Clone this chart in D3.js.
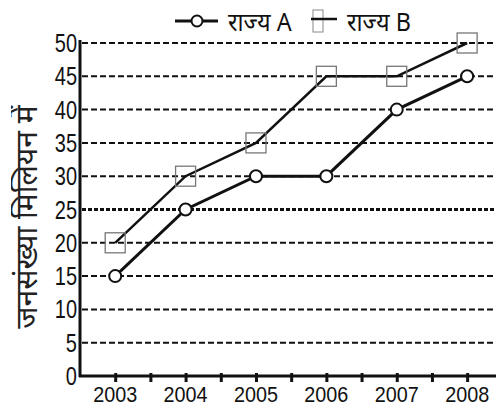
<!DOCTYPE html>
<html><head><meta charset="utf-8">
<script src="https://cdn.jsdelivr.net/npm/d3@7"></script>
<style>body{margin:0;background:#fff}svg{display:block}</style>
</head><body>
<svg id="c" width="496" height="414"></svg>
<script>
const years = [2003, 2004, 2005, 2006, 2007, 2008];
const seriesA = [15, 25, 30, 30, 40, 45];
const seriesB = [20, 30, 35, 45, 45, 50];
const yTicks = [0, 5, 10, 15, 20, 25, 30, 35, 40, 45, 50];
const seriesNames = ["राज्य A", "राज्य B"];
const yLabel = "जनसंख्या मिलियन में";

const svg = d3.select("#c");
const font = "'Liberation Sans',Arial,sans-serif";
const dfont = "'Noto Sans','Liberation Sans',sans-serif";
const x = d3.scaleLinear().domain([2002.5, 2008.41]).range([80, 496]);
const y = d3.scaleLinear().domain([0, 50]).range([376, 43]);

// gridlines
svg.append("g").selectAll("line").data(yTicks.filter(d => d > 0)).join("line")
  .attr("x1", 82).attr("x2", 496)
  .attr("y1", d => y(d)).attr("y2", d => y(d))
  .attr("stroke", "#111")
  .attr("stroke-width", d => d === 25 ? 3 : 2)
  .attr("stroke-dasharray", d => d === 25 ? "4,2" : "6,3");

// y tick labels (condensed)
svg.append("g").selectAll("text").data(yTicks).join("text")
  .attr("transform", d => `translate(77,${y(d)}) scale(0.8,1)`)
  .attr("dy", "0.36em")
  .attr("text-anchor", "end")
  .attr("font-family", font).attr("font-size", 25).attr("fill", "#111")
  .text(d => d);

// x axis
const xTickVals = d3.range(2003, 2008.01, 0.5);
const xAxis = d3.axisBottom(x).tickValues(xTickVals).tickSize(9).tickFormat("");
const gx = svg.append("g").attr("transform", "translate(0,373)").call(xAxis);
gx.select(".domain").remove();
gx.selectAll(".tick line").attr("stroke", "#111").attr("stroke-width", 3);
svg.append("line").attr("x1", 79).attr("x2", 496).attr("y1", 376).attr("y2", 376)
  .attr("stroke", "#111").attr("stroke-width", 3);
svg.append("line").attr("x1", 80).attr("x2", 80).attr("y1", 40).attr("y2", 377)
  .attr("stroke", "#111").attr("stroke-width", 3);

svg.append("g").selectAll("text").data(years).join("text")
  .attr("transform", d => `translate(${x(d)},402) scale(0.9,1)`)
  .attr("text-anchor", "middle")
  .attr("font-family", font).attr("font-size", 22).attr("fill", "#111")
  .text(d => d);

// y label (clipped at left like the reference)
svg.append("clipPath").attr("id", "ylc").append("rect")
  .attr("x", 11).attr("y", 0).attr("width", 40).attr("height", 414);
svg.append("g").attr("clip-path", "url(#ylc)")
  .append("text")
  .attr("transform", "translate(37,217) rotate(-90)")
  .attr("text-anchor", "middle")
  .attr("font-family", dfont)
  .attr("font-size", 30).attr("fill", "#222")
  .text(yLabel);

const line = d3.line().x((d, i) => x(years[i])).y(d => y(d));

// series B
svg.append("path").datum(seriesB).attr("d", line)
  .attr("fill", "none").attr("stroke", "#111").attr("stroke-width", 2.5);
svg.append("g").selectAll("rect").data(seriesB).join("rect")
  .attr("x", (d, i) => x(years[i]) - 10).attr("y", d => y(d) - 10)
  .attr("width", 20).attr("height", 20)
  .attr("fill", "none").attr("stroke", "#777").attr("stroke-width", 1.3);

// series A
svg.append("path").datum(seriesA).attr("d", line)
  .attr("fill", "none").attr("stroke", "#111").attr("stroke-width", 3);
svg.append("g").selectAll("circle").data(seriesA).join("circle")
  .attr("cx", (d, i) => x(years[i])).attr("cy", d => y(d)).attr("r", 6)
  .attr("fill", "#fff").attr("stroke", "#111").attr("stroke-width", 2);

// legend
const lg = svg.append("g");
lg.append("line").attr("x1", 175).attr("x2", 218).attr("y1", 21).attr("y2", 21)
  .attr("stroke", "#111").attr("stroke-width", 3);
lg.append("circle").attr("cx", 197).attr("cy", 21).attr("r", 5.5)
  .attr("fill", "#fff").attr("stroke", "#111").attr("stroke-width", 2);
lg.append("text").attr("transform", "translate(228,31) scale(0.9,1)")
  .attr("font-family", dfont).attr("font-size", 26).attr("fill", "#111")
  .text(seriesNames[0]);
lg.append("rect").attr("x", 313).attr("y", 10).attr("width", 10).attr("height", 22)
  .attr("fill", "none").attr("stroke", "#888").attr("stroke-width", 1);
lg.append("line").attr("x1", 311).attr("x2", 337).attr("y1", 19).attr("y2", 19)
  .attr("stroke", "#111").attr("stroke-width", 2.5);
lg.append("text").attr("transform", "translate(347,31) scale(0.9,1)")
  .attr("font-family", dfont).attr("font-size", 26).attr("fill", "#111")
  .text(seriesNames[1]);
</script>
</body></html>
